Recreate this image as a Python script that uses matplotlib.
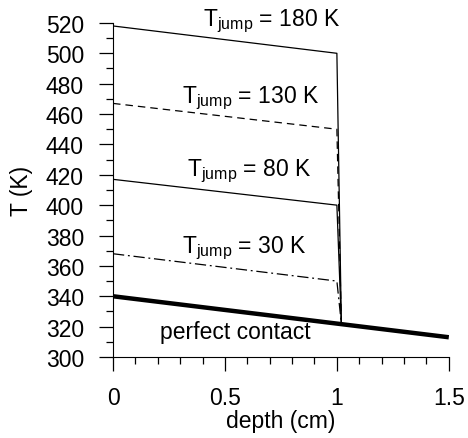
import matplotlib
matplotlib.use('Agg')
import matplotlib.pyplot as plt
from matplotlib.ticker import MultipleLocator

plt.rcParams['font.family'] = ['Liberation Sans', 'DejaVu Sans']
plt.rcParams['mathtext.fontset'] = 'custom'
plt.rcParams['mathtext.rm'] = 'Liberation Sans'
plt.rcParams['mathtext.it'] = 'Liberation Sans:italic'

# perfect contact profile
pc_x = [0, 1.5]
pc_T = [340, 313]

# profiles with a temperature jump at the interface (depth 1 cm)
jumps = [180, 130, 80, 30]
jump_x = [0, 1.0, 1.02]
jump_T = {
    180: [518, 500, 322],
    130: [467, 450, 322],
    80: [417, 400, 322],
    30: [368, 350, 322],
}
styles = {180: '-', 130: (0, (6, 4)), 80: '-', 30: (0, (9, 3, 1.5, 3))}
label_pos = {180: (0.40, 522), 130: (0.31, 471), 80: (0.33, 423), 30: (0.31, 372)}

fs = 16.5

fig = plt.figure(figsize=(4.68, 4.39), dpi=100)
ax = fig.add_axes([0.2415, 0.1845, 0.7175, 0.761])

ax.plot(pc_x, pc_T, color='black', lw=3.2, solid_capstyle='butt')
for j in jumps:
    ax.plot(jump_x, jump_T[j], color='black', lw=0.9, linestyle=styles[j])
    lx, ly = label_pos[j]
    ax.text(lx, ly, r'T$_{\rm jump}$ = %d K' % j, fontsize=fs, va='center', ha='left')
ax.text(0.21, 316.5, 'perfect contact', fontsize=fs, va='center', ha='left')

ax.set_xlim(0, 1.5)
ax.set_ylim(300, 520)
ax.xaxis.set_minor_locator(MultipleLocator(0.1))
ax.yaxis.set_major_locator(MultipleLocator(20))
ax.yaxis.set_minor_locator(MultipleLocator(10))
ax.set_xticks([0, 0.5, 1, 1.5])
ax.set_xticklabels(['0', '0.5', '1', '1.5'])
ax.spines['top'].set_visible(False)
ax.spines['right'].set_visible(False)
ax.tick_params(which='major', direction='out', length=10, width=0.9, labelsize=fs)
ax.tick_params(which='minor', direction='out', length=5, width=0.9)
ax.tick_params(axis='y', which='major', pad=11)
ax.tick_params(axis='x', which='major', pad=11)
ax.set_xlabel('depth (cm)', fontsize=fs, labelpad=0)
ax.set_ylabel('T (K)', fontsize=fs, labelpad=9)

fig.savefig('out.png', dpi=100)
